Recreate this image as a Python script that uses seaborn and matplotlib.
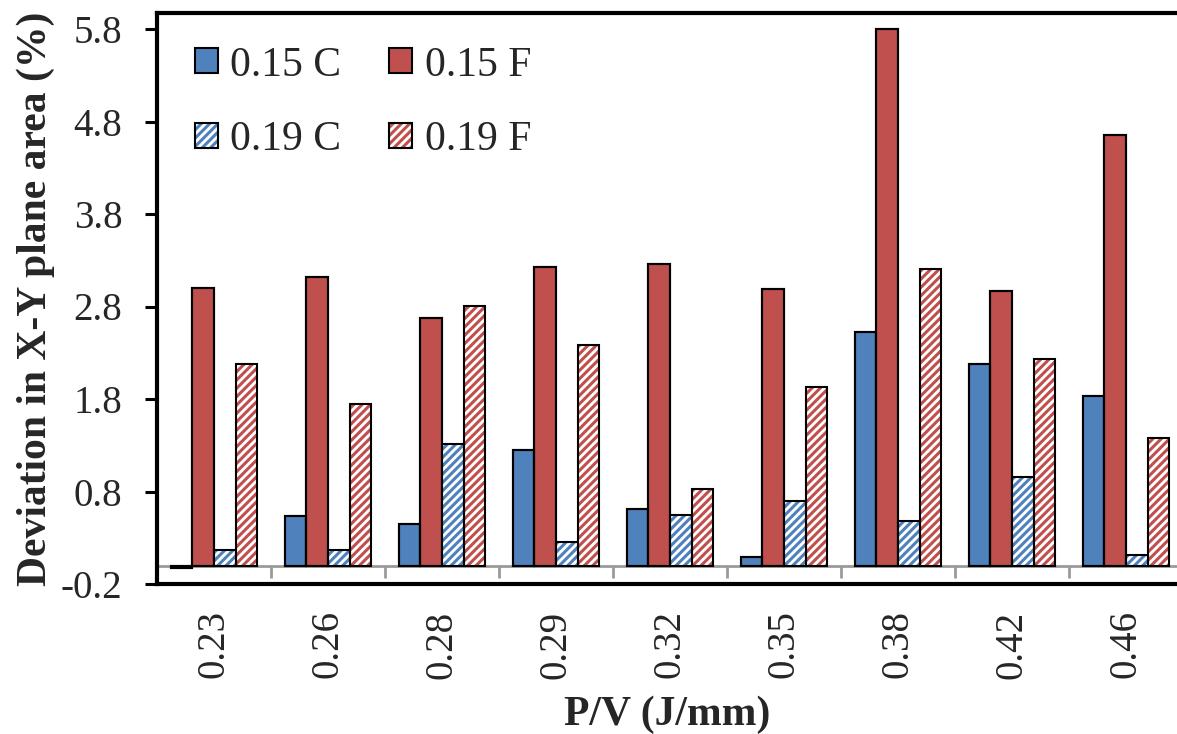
import numpy as np
import pandas as pd
import matplotlib
matplotlib.use("Agg")
import matplotlib.pyplot as plt
from matplotlib.patches import Patch
import seaborn as sns

# ---- data ----
categories = ["0.23", "0.26", "0.28", "0.29", "0.32", "0.35", "0.38", "0.42", "0.46"]
series_names = ["0.15 C", "0.15 F", "0.19 C", "0.19 F"]
c015 = [-0.03, 0.54, 0.45, 1.25, 0.61, 0.09, 2.52, 2.18, 1.83]
f015 = [3.00, 3.12, 2.68, 3.23, 3.26, 2.99, 5.80, 2.97, 4.65]
c019 = [0.17, 0.17, 1.31, 0.25, 0.55, 0.70, 0.48, 0.96, 0.11]
f019 = [2.18, 1.75, 2.81, 2.38, 0.83, 1.93, 3.21, 2.23, 1.38]
yticks = [-0.2, 0.8, 1.8, 2.8, 3.8, 4.8, 5.8]
ytick_labels = ["-0.2", "0.8", "1.8", "2.8", "3.8", "4.8", "5.8"]

BLUE = "#4F81BD"
RED = "#C0504D"
colors = [BLUE, RED, BLUE, RED]
hatched = [False, False, True, True]

df = pd.DataFrame({
    "PV": categories * 4,
    "series": [s for s in series_names for _ in categories],
    "val": c015 + f015 + c019 + f019,
})

sns.set_style("ticks")
plt.rcParams["font.family"] = ["Liberation Serif", "DejaVu Serif"]
plt.rcParams["axes.unicode_minus"] = False
plt.rcParams["hatch.linewidth"] = 2.2

fig = plt.figure(figsize=(11.77, 7.34), dpi=100)
ax = fig.add_axes([157 / 1177, (734 - 584) / 734, 1 - 157 / 1177, (584 - 13) / 734])

pal = dict(zip(series_names, colors))
sns.barplot(data=df, x="PV", y="val", hue="series", hue_order=series_names,
            order=categories, palette=pal, width=0.76, errorbar=None, saturation=1,
            edgecolor="black", linewidth=1.5, legend=False, ax=ax, zorder=3)

# hatched series: white face with coloured stripes
for cont, col, h in zip(ax.containers, colors, hatched):
    if h:
        for p in cont:
            p.set_facecolor("white")
            p.set_edgecolor(col)
            p.set_hatch("////")
            p.set_linewidth(0)

n_before = len(ax.containers)
# black outlines on top
sns.barplot(data=df, x="PV", y="val", hue="series", hue_order=series_names,
            order=categories, palette=pal, width=0.76, errorbar=None, saturation=1,
            fill=False, linewidth=1.5, legend=False, ax=ax, zorder=4)
for cont in ax.containers[n_before:]:
    for p in cont:
        p.set_edgecolor("black")
        p.set_linewidth(1.5)

# Excel-like category axis at zero
GRAY = "#9A9A9A"
ax.axhline(0, color=GRAY, lw=2, zorder=2)
bounds = np.arange(len(categories) + 1) - 0.5
ax.vlines(bounds, -0.14, 0, color=GRAY, lw=2, zorder=2)

ax.set_xlim(-0.5, -0.5 + 1020 / 114)
ax.set_ylim(-0.2, -0.2 + 571 / 92.5)

ax.set_yticks(yticks)
ax.set_yticklabels(ytick_labels)
ax.tick_params(axis="y", direction="out", length=9, width=2.2, labelsize=28, pad=16, color="black")
ax.set_xticks(range(len(categories)))
ax.set_xticklabels(categories, rotation=90)
ax.tick_params(axis="x", length=0, labelsize=28, pad=19)

for side in ["left", "top", "bottom"]:
    ax.spines[side].set_linewidth(3)
    ax.spines[side].set_color("black")
ax.spines["right"].set_visible(False)

ax.set_xlabel("P/V (J/mm)", fontsize=30, fontweight="bold", labelpad=12)
ax.set_ylabel("Deviation in X-Y plane area (%)", fontsize=30, fontweight="bold", labelpad=4)

# legend
handles = {}
for name, col, h in zip(series_names, colors, hatched):
    if h:
        handles[name] = (Patch(facecolor="white", edgecolor=col, hatch="////", lw=0),
                         Patch(fill=False, edgecolor="black", lw=1.5))
    else:
        handles[name] = Patch(facecolor=col, edgecolor="black", lw=1.5)
leg_order = ["0.15 C", "0.19 C", "0.15 F", "0.19 F"]
ax.legend([handles[k] for k in leg_order], leg_order, ncol=2, loc="upper left",
          bbox_to_anchor=(38 / 1020, 1 - 33 / 571), frameon=False, fontsize=30,
          handlelength=0.55, handleheight=0.55, handletextpad=0.3,
          columnspacing=1.15, labelspacing=0.87, borderpad=0, borderaxespad=0)

fig.savefig("out.png", dpi=100)
